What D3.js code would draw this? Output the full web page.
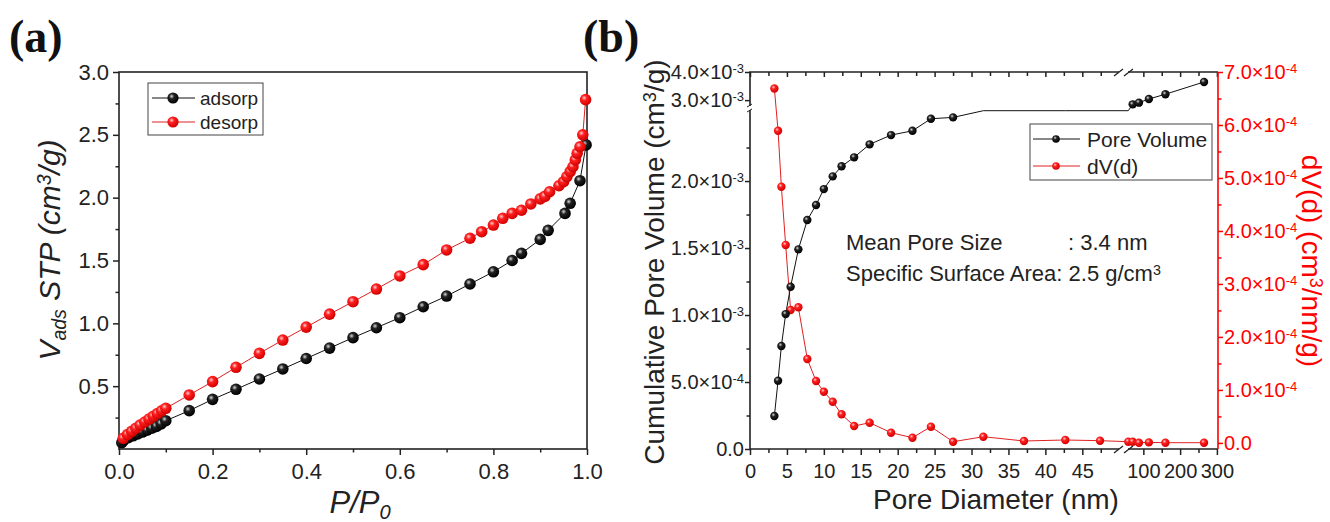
<!DOCTYPE html>
<html>
<head>
<meta charset="utf-8">
<script src="https://cdn.jsdelivr.net/npm/d3@7"></script>
<style>
  body { margin: 0; background: #fff; }
  svg { display: block; font-family: "Liberation Sans", Arial, sans-serif; }
</style>
</head>
<body>
<svg id="chart" width="1330" height="522"></svg>
<script>
// ---- panel (a): isotherm ----
const adsP = [0.006, 0.01, 0.02, 0.03, 0.04, 0.05, 0.06, 0.07, 0.08, 0.09, 0.1,
  0.15, 0.2, 0.25, 0.3, 0.35, 0.4, 0.45, 0.5, 0.55, 0.6, 0.65, 0.7, 0.75, 0.8,
  0.84, 0.86, 0.9, 0.917, 0.953, 0.964, 0.985, 0.998];
const adsV = [0.05, 0.07, 0.09, 0.105, 0.12, 0.135, 0.15, 0.165, 0.18, 0.2, 0.225,
  0.305, 0.395, 0.475, 0.557, 0.637, 0.72, 0.803, 0.886, 0.965, 1.045, 1.132, 1.217, 1.313, 1.41,
  1.50, 1.557, 1.668, 1.74, 1.875, 1.955, 2.135, 2.42];
const desP = [0.009, 0.018, 0.027, 0.036, 0.045, 0.055, 0.064, 0.073, 0.082, 0.091, 0.1,
  0.15, 0.2, 0.25, 0.3, 0.35, 0.4, 0.45, 0.5, 0.55, 0.6, 0.65, 0.7, 0.75, 0.775, 0.8,
  0.82, 0.84, 0.86, 0.88, 0.9, 0.91, 0.92, 0.94, 0.95, 0.957, 0.964, 0.97, 0.975,
  0.979, 0.985, 0.991, 0.997];
const desV = [0.085, 0.115, 0.14, 0.165, 0.19, 0.215, 0.238, 0.26, 0.282, 0.303, 0.324,
  0.43, 0.536, 0.65, 0.761, 0.867, 0.97, 1.073, 1.172, 1.273, 1.377, 1.467, 1.584, 1.677, 1.729, 1.782,
  1.836, 1.875, 1.90, 1.95, 1.99, 2.01, 2.047, 2.095, 2.127, 2.167, 2.207, 2.246, 2.30,
  2.353, 2.405, 2.50, 2.78];
const aXTicks = [0, 0.2, 0.4, 0.6, 0.8, 1.0];
const aXMinor = [0.1, 0.3, 0.5, 0.7, 0.9];
const aYTicks = [0.5, 1.0, 1.5, 2.0, 2.5, 3.0];
const aYMinor = [0.25, 0.75, 1.25, 1.75, 2.25, 2.75];

// ---- panel (b): pore size distribution ----
const poreD = [3.3, 3.8, 4.25, 4.83, 5.5, 6.55, 7.76, 8.94, 10.0, 11.2, 12.4, 14.1, 16.2,
  19.1, 22.0, 24.5, 27.5, 31.6, 37.1, 42.7, 47.4, 59, 71, 88, 115, 160, 265];
const poreVol = [0.246e-3, 0.51e-3, 0.769e-3, 1.007e-3, 1.211e-3, 1.49e-3, 1.709e-3, 1.821e-3,
  1.94e-3, 2.035e-3, 2.11e-3, 2.177e-3, 2.274e-3, 2.343e-3, 2.375e-3, 2.465e-3, 2.475e-3,
  2.56e-3, 2.6e-3, 2.63e-3, 2.66e-3, 2.7e-3, 2.85e-3, 2.91e-3, 3.04e-3, 3.21e-3, 3.645e-3];
const dVd = [6.69e-4, 5.89e-4, 4.835e-4, 3.735e-4, 2.508e-4, 2.559e-4, 1.583e-4, 1.168e-4,
  0.966e-4, 0.778e-4, 0.54e-4, 0.319e-4, 0.381e-4, 0.193e-4, 0.098e-4, 0.306e-4, 0.023e-4,
  0.117e-4, 0.036e-4, 0.055e-4, 0.042e-4, 0.023e-4, 0.023e-4, 0.004e-4, 0.01e-4, 0.004e-4, 0.004e-4];
const bXTicks = [0, 5, 10, 15, 20, 25, 30, 35, 40, 45, 100, 200, 300];
const bXMinor = [2.5, 7.5, 12.5, 17.5, 22.5, 27.5, 32.5, 37.5, 42.5, 47.5, 150, 250];
const bYLTicks = [0, 5e-4, 1e-3, 1.5e-3, 2e-3, 3e-3, 4e-3];
const bYLMinor = [2.5e-4, 7.5e-4, 1.25e-3, 1.75e-3, 2.25e-3];
const bYRTicks = [0, 1e-4, 2e-4, 3e-4, 4e-4, 5e-4, 6e-4, 7e-4];
const bYRMinor = [0.5e-4, 1.5e-4, 2.5e-4, 3.5e-4, 4.5e-4, 5.5e-4, 6.5e-4];
const yBreak = [2.525e-3, 2.72e-3];

const RED = "#ff0000";
const svg = d3.select("#chart");

// sphere-looking markers
const defs = svg.append("defs");
function grad(id, hi, mid, lo) {
  const g = defs.append("radialGradient").attr("id", id)
    .attr("cx", "38%").attr("cy", "35%").attr("r", "65%");
  g.append("stop").attr("offset", "0%").attr("stop-color", hi);
  g.append("stop").attr("offset", "35%").attr("stop-color", mid);
  g.append("stop").attr("offset", "100%").attr("stop-color", lo);
}
grad("gBlack", "#d8d8d8", "#222", "#000");
grad("gRed", "#ffd0d0", "#ff2020", "#d00000");

function sup(t, s) {
  t.append("tspan").attr("dy", "-0.45em").attr("font-size", "0.65em").text(s);
}
function sci(t, v) {
  if (v === 0) { t.text("0.0"); return; }
  const e = Math.floor(Math.log10(v) + 1e-9);
  const m = v / Math.pow(10, e);
  t.text(null);
  t.append("tspan").text(m.toFixed(1) + "\u00d710");
  sup(t, String(e));
}

// ================= panel (a) =================
const xa = d3.scaleLinear().domain([0, 1]).range([119, 587]);
const ya = d3.scaleLinear().domain([0, 3]).range([449, 72]);
const ga = svg.append("g");

ga.append("g").attr("transform", "translate(0,449)")
  .call(d3.axisBottom(xa).tickValues(aXMinor).tickSize(3.5).tickFormat(""))
  .call(g => g.select(".domain").remove());
ga.append("g").attr("transform", "translate(0,449)")
  .call(d3.axisBottom(xa).tickValues(aXTicks).tickSize(6).tickPadding(8).tickFormat(d3.format(".1f")))
  .call(g => g.select(".domain").remove())
  .call(g => g.selectAll("text").attr("font-size", 22).attr("fill", "#222").attr("font-family", "Liberation Sans, Arial"));
ga.append("g").attr("transform", "translate(119,0)")
  .call(d3.axisLeft(ya).tickValues(aYMinor).tickSize(3.5).tickFormat(""))
  .call(g => g.select(".domain").remove());
ga.append("g").attr("transform", "translate(119,0)")
  .call(d3.axisLeft(ya).tickValues(aYTicks).tickSize(6).tickPadding(4).tickFormat(d3.format(".1f")))
  .call(g => g.select(".domain").remove())
  .call(g => g.selectAll("text").attr("font-size", 22).attr("fill", "#222").attr("font-family", "Liberation Sans, Arial"));
ga.selectAll(".tick line").attr("stroke", "#222").attr("stroke-width", 1.5);

ga.append("rect").attr("x", 119).attr("y", 72).attr("width", 468).attr("height", 377)
  .attr("fill", "none").attr("stroke", "#222").attr("stroke-width", 1.6);

const adsData = adsP.map((p, i) => ({ x: p, y: adsV[i] }));
const desData = desP.map((p, i) => ({ x: p, y: desV[i] }));
const lineA = d3.line().x(d => xa(d.x)).y(d => ya(d.y));

ga.append("path").datum(adsData).attr("d", lineA).attr("fill", "none").attr("stroke", "#111").attr("stroke-width", 1);
ga.selectAll(".ads").data(adsData).join("circle")
  .attr("cx", d => xa(d.x)).attr("cy", d => ya(d.y)).attr("r", 5.8).attr("fill", "url(#gBlack)");
ga.append("path").datum(desData).attr("d", lineA).attr("fill", "none").attr("stroke", "#e02020").attr("stroke-width", 1);
ga.selectAll(".des").data(desData).join("circle")
  .attr("cx", d => xa(d.x)).attr("cy", d => ya(d.y)).attr("r", 5.8).attr("fill", "url(#gRed)");

// legend (a)
const la = ga.append("g");
la.append("rect").attr("x", 148).attr("y", 83).attr("width", 115).attr("height", 52)
  .attr("fill", "#fff").attr("stroke", "#444").attr("stroke-width", 1);
[["adsorp", "#111", "url(#gBlack)", 98], ["desorp", "#e02020", "url(#gRed)", 122]].forEach(([name, c, f, yy]) => {
  la.append("line").attr("x1", 152).attr("x2", 195).attr("y1", yy).attr("y2", yy).attr("stroke", c).attr("stroke-width", 1);
  la.append("circle").attr("cx", 173).attr("cy", yy).attr("r", 5.6).attr("fill", f);
  la.append("text").attr("x", 200).attr("y", yy + 7).attr("font-size", 19).attr("fill", "#222").text(name);
});

// titles (a)
const yta = ga.append("text").attr("transform", "translate(60,250) rotate(-90)")
  .attr("text-anchor", "middle").attr("font-size", 30).attr("font-style", "italic").attr("fill", "#222");
yta.append("tspan").text("V");
yta.append("tspan").attr("dy", "0.3em").attr("font-size", "0.65em").text("ads");
yta.append("tspan").attr("dy", "-0.195em").text(" STP (cm");
yta.append("tspan").attr("dy", "-0.45em").attr("font-size", "0.65em").text("3");
yta.append("tspan").attr("dy", "0.29em").text("/g)");

const xta = ga.append("text").attr("x", 360).attr("y", 513)
  .attr("text-anchor", "middle").attr("font-size", 31).attr("font-style", "italic").attr("fill", "#222");
xta.append("tspan").text("P/P");
xta.append("tspan").attr("dy", "0.3em").attr("font-size", "0.65em").text("0");

svg.append("text").attr("x", 9).attr("y", 52).attr("font-family", "Liberation Serif, Times New Roman, serif")
  .attr("font-weight", "bold").attr("font-size", 46).attr("fill", "#111").text("(a)");
svg.append("text").attr("x", 583).attr("y", 52).attr("font-family", "Liberation Serif, Times New Roman, serif")
  .attr("font-weight", "bold").attr("font-size", 46).attr("fill", "#111").text("(b)");

// ================= panel (b) =================
const xb = d3.scaleLinear().domain([0, 49.7, 55, 303]).range([750, 1117, 1126.8, 1218]);
const ybL = d3.scaleLinear().domain([0, yBreak[0], yBreak[1], 4e-3]).range([449, 110.7, 108, 72]);
const ybR = d3.scaleLinear().domain([-1.15e-5, 7e-4]).range([449, 72]);
const gb = svg.append("g");
const inGap = v => v > yBreak[0] && v < yBreak[1];
const yPV = v => inGap(v) ? ybL(yBreak[0]) : ybL(v);

function ticksX(pos, dir) {
  gb.append("g").attr("transform", `translate(0,${pos})`)
    .call((dir > 0 ? d3.axisBottom(xb) : d3.axisTop(xb)).tickValues(bXMinor).tickSize(dir > 0 ? 4 : -4).tickFormat(""))
    .call(g => g.select(".domain").remove());
  const ax = (dir > 0 ? d3.axisBottom(xb) : d3.axisTop(xb)).tickValues(bXTicks).tickSize(dir > 0 ? 6 : -5).tickPadding(dir > 0 ? 9 : 0);
  gb.append("g").attr("transform", `translate(0,${pos})`)
    .call(ax.tickFormat(dir > 0 ? d3.format("d") : ""))
    .call(g => g.select(".domain").remove())
    .call(g => g.selectAll("text").attr("font-size", 20).attr("fill", "#222").attr("font-family", "Liberation Sans, Arial"));
}
ticksX(449, 1);
ticksX(72, -1);

gb.append("g").attr("transform", "translate(750,0)")
  .call(d3.axisLeft(ybL).tickValues(bYLMinor).tickSize(3.5).tickFormat(""))
  .call(g => g.select(".domain").remove());
gb.append("g").attr("transform", "translate(750,0)")
  .call(d3.axisLeft(ybL).tickValues(bYLTicks).tickSize(5).tickPadding(1))
  .call(g => g.select(".domain").remove())
  .call(g => g.selectAll("text").attr("font-size", 20).attr("fill", "#222")
    .attr("font-family", "Liberation Sans, Arial").each(function (d) { sci(d3.select(this), d); }));
gb.selectAll(".tick line").attr("stroke", "#222").attr("stroke-width", 1.5);

const gr = gb.append("g").attr("transform", "translate(1218,0)");
gr.append("g").call(d3.axisRight(ybR).tickValues(bYRMinor).tickSize(3.5).tickFormat(""))
  .call(g => g.select(".domain").remove());
gr.append("g").call(d3.axisRight(ybR).tickValues(bYRTicks).tickSize(5).tickPadding(1))
  .call(g => g.select(".domain").remove())
  .call(g => g.selectAll("text").attr("font-size", 20).attr("fill", RED)
    .attr("font-family", "Liberation Sans, Arial").each(function (d) { sci(d3.select(this), d); }));
gr.selectAll(".tick line").attr("stroke", RED).attr("stroke-width", 1.5);

// frame
gb.append("path").attr("d", "M1218,72H750V449H1218").attr("fill", "none").attr("stroke", "#222").attr("stroke-width", 1.6);
gb.append("line").attr("x1", 1218).attr("x2", 1218).attr("y1", 72).attr("y2", 449).attr("stroke", RED).attr("stroke-width", 1.6);

// axis breaks
[72, 449].forEach(yy => {
  gb.append("rect").attr("x", 1119).attr("y", yy - 2).attr("width", 9).attr("height", 4).attr("fill", "#fff");
  gb.append("line").attr("x1", 1114).attr("y1", yy + 4).attr("x2", 1123).attr("y2", yy - 3).attr("stroke", "#222").attr("stroke-width", 1.3);
  gb.append("line").attr("x1", 1124).attr("y1", yy + 4).attr("x2", 1133).attr("y2", yy - 3).attr("stroke", "#222").attr("stroke-width", 1.3);
});
gb.append("rect").attr("x", 748).attr("y", 106).attr("width", 4).attr("height", 4).attr("fill", "#fff");
gb.append("line").attr("x1", 747).attr("y1", 107).attr("x2", 752).attr("y2", 104).attr("stroke", "#222").attr("stroke-width", 1);
gb.append("line").attr("x1", 747).attr("y1", 112).attr("x2", 752).attr("y2", 109).attr("stroke", "#222").attr("stroke-width", 1);

// series
const pvData = poreD.map((d, i) => ({ x: d, v: poreVol[i] }));
const dvData = poreD.map((d, i) => ({ x: d, v: dVd[i] }));
gb.append("path").datum(dvData).attr("fill", "none").attr("stroke", "#e02020").attr("stroke-width", 1)
  .attr("d", d3.line().x(d => xb(d.x)).y(d => ybR(d.v)));
gb.append("path").datum(pvData).attr("fill", "none").attr("stroke", "#111").attr("stroke-width", 1)
  .attr("d", d3.line().x(d => xb(d.x)).y(d => yPV(d.v)));
gb.selectAll(".dv").data(dvData).join("circle")
  .attr("cx", d => xb(d.x)).attr("cy", d => ybR(d.v)).attr("r", 4.2).attr("fill", "url(#gRed)");
gb.selectAll(".pv").data(pvData.filter(d => !inGap(d.v))).join("circle")
  .attr("cx", d => xb(d.x)).attr("cy", d => ybL(d.v)).attr("r", 4.2).attr("fill", "url(#gBlack)");

// legend (b)
const lb = gb.append("g");
lb.append("rect").attr("x", 1030).attr("y", 124).attr("width", 182).attr("height", 56)
  .attr("fill", "#fff").attr("stroke", "#444").attr("stroke-width", 1);
[["Pore Volume", "#111", "url(#gBlack)", 139], ["dV(d)", "#e02020", "url(#gRed)", 166]].forEach(([name, c, f, yy]) => {
  lb.append("line").attr("x1", 1033).attr("x2", 1080).attr("y1", yy).attr("y2", yy).attr("stroke", c).attr("stroke-width", 1);
  lb.append("circle").attr("cx", 1056).attr("cy", yy).attr("r", 3.8).attr("fill", f);
  lb.append("text").attr("x", 1087).attr("y", yy + 8).attr("font-size", 21).attr("fill", "#222").text(name);
});

// annotation
gb.append("text").attr("x", 846).attr("y", 250).attr("font-size", 22).attr("fill", "#222").text("Mean Pore Size");
gb.append("text").attr("x", 1068).attr("y", 250).attr("font-size", 22).attr("fill", "#222").text(": 3.4 nm");
const ann = gb.append("text").attr("x", 846).attr("y", 281).attr("font-size", 22).attr("fill", "#222");
ann.append("tspan").text("Specific Surface Area: 2.5 g/cm");
sup(ann, "3");

// titles (b)
gb.append("text").attr("x", 996).attr("y", 509).attr("text-anchor", "middle")
  .attr("font-size", 28).attr("fill", "#222").text("Pore Diameter (nm)");
const ytl = gb.append("text").attr("transform", "translate(664,262) rotate(-90)")
  .attr("text-anchor", "middle").attr("font-size", 28).attr("fill", "#222");
ytl.append("tspan").text("Cumulative Pore Volume (cm");
ytl.append("tspan").attr("dy", "-0.45em").attr("font-size", "0.65em").text("3");
ytl.append("tspan").attr("dy", "0.29em").text("/g)");
const ytr = gb.append("text").attr("transform", "translate(1302,261) rotate(90)")
  .attr("text-anchor", "middle").attr("font-size", 28).attr("fill", RED);
ytr.append("tspan").text("dV(d) (cm");
ytr.append("tspan").attr("dy", "-0.45em").attr("font-size", "0.65em").text("3");
ytr.append("tspan").attr("dy", "0.29em").text("/nm/g)");
</script>
</body>
</html>
